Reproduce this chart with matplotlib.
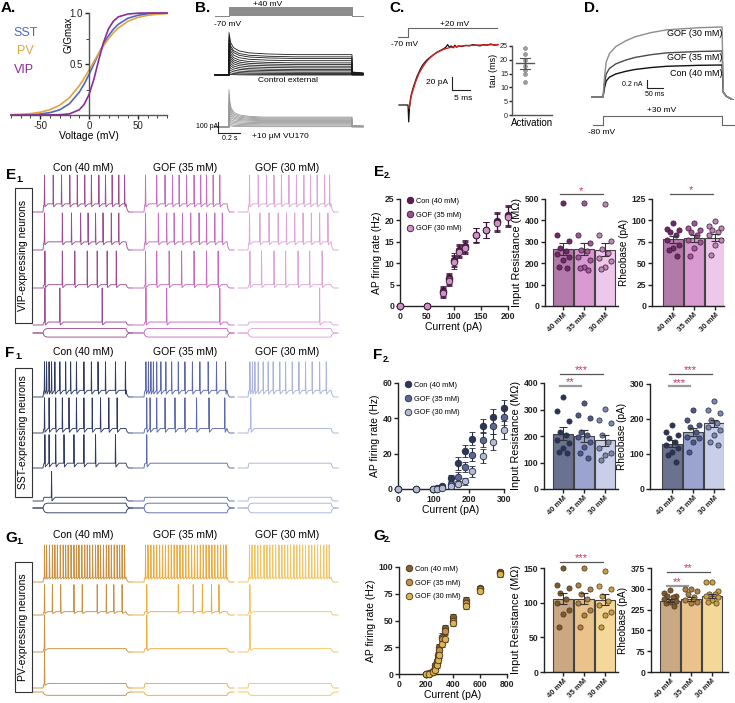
import numpy as np
import matplotlib.pyplot as plt
from matplotlib.patches import Rectangle

W, H = 735, 703
plt.rcParams['font.family'] = ['Liberation Sans', 'DejaVu Sans']
plt.rcParams['axes.unicode_minus'] = False
plt.rcParams['axes.linewidth'] = 1.0
plt.rcParams['axes.edgecolor'] = '#222222'
for k in ['xtick', 'ytick']:
    plt.rcParams[k + '.major.width'] = 1.0
    plt.rcParams[k + '.major.size'] = 3
    plt.rcParams[k + '.major.pad'] = 1.2
    plt.rcParams[k + '.labelsize'] = 6.2
    plt.rcParams[k + '.color'] = '#222222'

# -----------------------------------------------
# DATOS
# -----------------------------------------------
# A. G/Gmax vs voltage
volt = [-80, -70, -60, -50, -40, -30, -20, -10, -5, 0, 5, 10, 15, 20, 25, 30, 40, 50, 60, 70, 80]
g_sst = [0.001, 0.002, 0.004, 0.010, 0.023, 0.051, 0.111, 0.223, 0.303, 0.397, 0.50, 0.603,
         0.697, 0.777, 0.841, 0.889, 0.949, 0.977, 0.990, 0.996, 0.998]
g_pv = [0.004, 0.007, 0.014, 0.027, 0.052, 0.096, 0.17, 0.287, 0.36, 0.44, 0.523, 0.606,
        0.68, 0.749, 0.806, 0.853, 0.919, 0.957, 0.977, 0.988, 0.994]
g_vip = [0.0, 0.0, 0.0, 0.0, 0.001, 0.003, 0.011, 0.051, 0.104, 0.20, 0.35, 0.54,
         0.714, 0.845, 0.92, 0.962, 0.99, 0.998, 1.0, 1.0, 1.0]

# B. voltage steps (mV) and currents (pA)
b_steps = [-60, -50, -40, -30, -20, -10, 0, 10, 20, 30, 40]
b_ctrl_peak = [385, 345, 320, 290, 260, 230, 205, 180, 150, 120, 90, 60, 30, 10]
b_ctrl_sus = [185, 165, 150, 130, 110, 95, 80, 65, 50, 38, 25, 14, 6, 0]
b_ctrl_decay_t = [0, 15, 40, 90, 180, 350, 600, 1100]
b_vu_peak = [340, 300, 260, 220, 185, 150, 120, 95, 70, 45, 20]
b_vu_sus = [90, 82, 74, 66, 58, 50, 40, 30, 20, 10, 3]
b_vu_decay_t = [0, 8, 20, 45, 90, 175, 300, 1100]
b_decay_f = [1.0, 0.55, 0.32, 0.17, 0.08, 0.03, 0.0, 0.0]

# C. activation current (ms, pA) and tau
c_t = [-2.5, 0, 0.2, 0.4, 0.7, 1, 1.5, 2, 2.5, 3, 3.5, 4, 5, 6, 7, 8, 9, 10, 10.5, 11, 11.5,
       12, 12.5, 13, 13.5, 14, 15, 16, 17, 18, 19, 20, 21, 22, 23, 24, 25]
c_i = [0, 0, -26, -5, 10, 18, 28, 36, 44, 50, 56, 61, 68, 73, 77, 81, 84, 87, 89, 93, 89,
       91, 88, 92, 89, 91, 90, 92, 91, 93, 92, 91, 93, 92, 94, 92, 93]
c_fit_t = [0.3, 1, 2, 3, 4, 5, 6, 7, 8, 10, 12, 15, 18, 21, 25]
c_fit_i = [-5, 16, 34, 48, 58, 66, 72, 77, 81, 86, 89, 91, 92, 92.5, 93]
c_tau = [24.2, 22.0, 19.9, 17.9, 16.3, 14.9, 12.1]
c_tau_mean = 18.7
c_tau_sem = 2.1

# D. currents (nA)
d_t = [-35, 0, 5, 10, 20, 40, 70, 100, 150, 200, 300, 372]
d_frac = [0, 0, 0.3, 0.5, 0.62, 0.72, 0.8, 0.86, 0.92, 0.96, 0.99, 1.0]
d_tail_t = [376, 385, 412]
d_tail_i = [0.12, 0.02, -0.1]
d_labels = ['Con (40 mM)', 'GOF (35 mM)', 'GOF (30 mM)']
d_amp = [0.8, 1.15, 1.75]

# E1/F1/G1 spike times (fraction of the 1 s step), rows top to bottom
vip_con = [[0.01, 0.12, 0.22, 0.32, 0.41, 0.50, 0.58, 0.67, 0.75, 0.83, 0.91, 0.98],
           [0.0, 0.23, 0.34, 0.45, 0.54, 0.63, 0.72, 0.82, 0.91],
           [0.02, 0.23, 0.38, 0.53, 0.65, 0.77, 0.88],
           [0.02, 0.2, 0.71]]
vip_g35 = [[0.01, 0.15, 0.25, 0.34, 0.42, 0.51, 0.60, 0.68, 0.75, 0.83, 0.91],
           [0.0, 0.17, 0.27, 0.36, 0.46, 0.56, 0.66, 0.75, 0.85, 0.94],
           [0.01, 0.15, 0.3, 0.45, 0.6, 0.75, 0.89],
           [0.02, 0.27, 0.91]]
vip_g30 = [[0.01, 0.12, 0.22, 0.31, 0.4, 0.49, 0.58, 0.67, 0.75, 0.83, 0.92, 0.98],
           [0.01, 0.14, 0.25, 0.36, 0.46, 0.56, 0.66, 0.76, 0.86, 0.96],
           [0.02, 0.16, 0.31, 0.45, 0.6, 0.74, 0.89],
           [0.86]]
vip_steps = [22, 22, 9, 8]
vip_peaks = [100, 100, 100, 100]
vip_box = [12, -11]

sst_con = [[0.01, 0.04, 0.07, 0.1, 0.14, 0.2, 0.27, 0.33, 0.4, 0.49, 0.58, 0.66, 0.75, 0.87, 0.99],
           [0.01, 0.07, 0.15, 0.23, 0.31, 0.4, 0.49, 0.59, 0.69, 0.79, 0.89],
           [0.02, 0.07, 0.15, 0.25, 0.37, 0.49, 0.63, 0.87],
           [0.1]]
sst_g35 = [[0.02, 0.05, 0.08, 0.11, 0.15, 0.2, 0.26, 0.33, 0.41, 0.49, 0.58, 0.67, 0.77, 0.87, 0.98],
           [0.03, 0.07, 0.15, 0.25, 0.37, 0.49, 0.63, 0.78, 0.97],
           [0.03],
           []]
sst_g30 = [[0.02, 0.05, 0.08, 0.12, 0.18, 0.24, 0.3, 0.38, 0.45, 0.53, 0.61, 0.69, 0.77, 0.86, 0.94],
           [0.03],
           [],
           []]
sst_steps = [18, 12, 13, 10]
sst_peaks = [95, 95, 90, 80]
sst_box = [13, -13]

pv_con = [[0.01, 0.04, 0.075, 0.11, 0.14, 0.17, 0.205, 0.24, 0.27, 0.30, 0.335, 0.37, 0.40, 0.43,
           0.465, 0.50, 0.53, 0.56, 0.595, 0.63, 0.66, 0.69, 0.725, 0.76, 0.79, 0.82, 0.855, 0.89,
           0.92, 0.95, 0.98],
          [0.01, 0.11, 0.21, 0.37, 0.47, 0.65, 0.76, 0.85, 0.95],
          [0.01],
          [0.01]]
pv_g35 = [[0.01, 0.045, 0.08, 0.115, 0.15, 0.185, 0.22, 0.255, 0.29, 0.325, 0.36, 0.395, 0.43,
           0.465, 0.50, 0.535, 0.57, 0.605, 0.64, 0.675, 0.71, 0.745, 0.78, 0.815, 0.85, 0.885,
           0.92, 0.955, 0.985],
          [0.03, 0.41, 0.59, 0.7, 0.81, 0.9],
          [0.03],
          []]
pv_g30 = [[0.01, 0.045, 0.08, 0.115, 0.15, 0.19, 0.225, 0.26, 0.295, 0.33, 0.37, 0.405, 0.44,
           0.475, 0.51, 0.55, 0.585, 0.62, 0.655, 0.69, 0.73, 0.765, 0.80, 0.835, 0.87, 0.91,
           0.945, 0.975],
          [0.02],
          [0.02],
          []]
pv_steps = [13, 9, 9, 12]
pv_peaks = [100, 82, 100, 100]
pv_box = [-9]

box_t = [-120, 0, 8, 25, 50, 1000, 1008, 1025, 1050, 1085]
box_f = [0, 0, 0.5, 0.85, 1, 1, 0.5, 0.15, 0, 0]

# E2/F2/G2 firing rate vs current
cond_labels = ['Con (40 mM)', 'GOF (35 mM)', 'GOF (30 mM)']
bar_labels = ['40 mM', '35 mM', '30 mM']

e_cur = [0, 50, 80, 90, 100, 110, 120, 140, 160, 180, 200]
e_con = [0, 0, 3.5, 6.5, 10.8, 13.0, 14.0, 16.6, 17.8, 19.8, 21.3]
e_g35 = [0, 0, 3.2, 6.2, 10.5, 12.8, 13.8, 16.6, 17.8, 19.6, 21.0]
e_g30 = [0, 0, 3.0, 5.9, 10.2, 12.7, 13.6, 16.5, 17.7, 19.5, 20.8]
e_err = [0, 0, 1.2, 1.3, 1.5, 1.4, 1.4, 1.7, 1.9, 2.1, 2.3]

f_cur = [0, 50, 100, 110, 125, 150, 170, 190, 210, 240, 270, 300]
f_con = [0, 0, 0.2, 0.5, 1.5, 6, 14.5, 21.5, 28.5, 35.5, 41, 46]
f_g35 = [0, 0, 0, 0.2, 1.2, 3, 7, 12.5, 19.5, 28, 35.5, 41]
f_g30 = [0, 0, 0, 0, 0.5, 1.5, 3, 4.5, 10, 18.5, 26.5, 33.5]
f_con_err = [0, 0, 0.3, 0.5, 1, 2, 3.5, 3.5, 3.5, 4, 4.5, 4.5]
f_g35_err = [0, 0, 0, 0.3, 0.8, 1.5, 2.5, 3, 3.5, 4, 4.5, 4.5]
f_g30_err = [0, 0, 0, 0, 0.5, 1, 1.5, 2, 3, 4, 4.5, 5]

g_cur = [200, 225, 250, 270, 280, 290, 300, 320, 340, 400, 500, 600, 750]
g_con = [0, 0.5, 2.5, 8, 12, 18, 25, 35, 43, 53, 69, 80, 95]
g_g35 = [0, 0.3, 2, 6, 10, 15, 22, 33, 40, 50, 66, 79, 94]
g_g30 = [0, 0.2, 1.5, 4, 8, 13, 18, 28, 33, 48, 64, 78, 93]
g_err = [0, 0.5, 1, 2, 2, 2.5, 3, 3, 3, 3, 3, 2.5, 2]

# input resistance (MOhm) and rheobase (pA), individual cells
e_ir = [[481, 333, 302, 270, 259, 244, 231, 216, 181, 177],
        [481, 333, 294, 262, 255, 231, 216, 184, 177, 169],
        [477, 333, 302, 266, 247, 223, 208, 184, 172]]
e_ir_mean = [265, 265, 263]
e_ir_sem = [28, 28, 30]
e_rb = [[97, 90, 89, 87, 83, 77, 71, 68, 66, 58],
        [97, 91, 89, 87, 83, 77, 75, 68, 58],
        [99, 93, 91, 89, 87, 83, 77, 71, 60]]
e_rb_mean = [78, 79, 80]
e_rb_sem = [4, 4, 4]

f_ir = [[349, 293, 255, 214, 204, 185, 173, 154, 141, 135],
        [324, 280, 267, 214, 204, 198, 179, 160, 135, 116],
        [303, 261, 249, 204, 179, 154, 135, 129, 110]]
f_ir_mean = [209, 199, 184]
f_ir_sem = [25, 22, 20]
f_rb = [[183, 164, 154, 145, 135, 125, 116, 107, 97, 78],
        [226, 197, 183, 178, 164, 150, 145, 135, 107],
        [250, 226, 216, 197, 188, 178, 169, 154, 135, 125]]
f_rb_mean = [130, 163, 188]
f_rb_sem = [9, 11, 10]

g_ir = [[150, 126, 121, 114, 106, 100, 89, 84, 65],
        [150, 126, 120, 112, 106, 99, 89, 82, 65],
        [145, 124, 120, 110, 103, 96, 86, 82, 65]]
g_ir_mean = [106, 106, 104]
g_ir_sem = [8, 8, 8]
g_rb = [[294, 286, 274, 274, 269, 262, 257, 254, 247, 239],
        [301, 301, 292, 280, 269, 259, 254, 247],
        [323, 323, 292, 283, 280, 274, 269, 259, 254, 247]]
g_rb_mean = [257, 263, 274]
g_rb_sem = [6, 7, 8]

# -----------------------------------------------
# FIGURA
# -----------------------------------------------
fig = plt.figure(figsize=(W / 100, H / 100), dpi=100)
STAR = '#cc3060'


def add_ax(l, t, r, b):
    return fig.add_axes([l / W, 1 - b / H, (r - l) / W, (b - t) / H])


def ftext(x, y, s, size=6.5, ha='center', va='center', **kw):
    fig.text(x / W, 1 - y / H, s, size=size, ha=ha, va=va, **kw)


def clean(ax):
    ax.spines['top'].set_visible(False)
    ax.spines['right'].set_visible(False)


def bold_ticks(ax):
    for lab in ax.get_xticklabels() + ax.get_yticklabels():
        lab.set_fontweight('bold')


def panel_letter(x, y, s, sub=None):
    ftext(x, y, s, size=11, weight='bold')
    if sub is not None:
        ftext(x + 5, y + 4, sub, size=6.5, weight='bold', ha='left')


# ---------- A ----------
ax = add_ax(11, 13, 167, 115)
ax.plot(volt, g_sst, color='#5066c4', lw=1.2, clip_on=False)
ax.plot(volt, g_pv, color='#e0a53c', lw=1.2, clip_on=False)
ax.plot(volt, g_vip, color='#8c2a98', lw=1.2, clip_on=False)
ax.set_xlim(-80, 80)
ax.set_ylim(0, 1)
ax.spines['left'].set_position(('data', 0))
ax.spines['left'].set_color('#555555')
ax.spines['bottom'].set_color('#555555')
clean(ax)
ax.set_xticks([-50, 0, 50])
ax.set_xticks(range(-80, 81, 10), minor=True)
ax.set_yticks([0.5, 1.0])
ax.set_yticks([0.25, 0.75], minor=True)
ax.tick_params(which='minor', length=2)
ax.tick_params(labelsize=7)
ax.set_xlabel('Voltage (mV)', size=7.5, labelpad=0)
ftext(68, 35, 'G/Gmax', size=7, rotation=90)
ftext(26, 33, 'SST', size=9, color='#5066c4')
ftext(25, 51, 'PV', size=9, color='#e0a53c')
ftext(24, 70, 'VIP', size=9, color='#8c2a98')
panel_letter(8, 8, 'A.')

# ---------- B ----------
B_MS = 1100 / (352 - 229)
axv = add_ax(185, 0, 365, 22)
axv.set_xlim((185 - 229) * B_MS, (365 - 229) * B_MS)
axv.set_ylim(-70 - 6 * 12.2, -70 + 16 * 12.2)
axv.axis('off')
for lvl in b_steps:
    axv.plot([-125, 0, 0, 1100, 1100, 1200], [-70, -70, lvl, lvl, -70, -70], color='#8a8a8a', lw=0.7)

for top, bot, peaks, sus, dt, col in [(28, 80, b_ctrl_peak, b_ctrl_sus, b_ctrl_decay_t, '#1a1a1a'),
                                      (85, 135, b_vu_peak, b_vu_sus, b_vu_decay_t, '#9a9a9a')]:
    base = 75 if top == 28 else 127
    axb = add_ax(185, top, 365, bot)
    axb.set_xlim((185 - 229) * B_MS, (365 - 229) * B_MS)
    axb.set_ylim((base - bot) * 9.09, (base - top) * 9.09)
    axb.axis('off')
    for pk, s in zip(peaks, sus):
        tt = [-125, 0] + dt + [1100, 1200]
        ii = [0, 0] + [s + (pk - s) * f for f in b_decay_f] + [0.15 * s, 0.1 * s]
        axb.plot(tt, ii, color=col, lw=0.6)
    if top == 85:
        axb.plot([-98, -98, 102], [45, -55, -55], color='#222222', lw=0.8)
ftext(268, 4.5, '+40 mV', size=6)
ftext(228, 24, '-70 mV', size=6)
ftext(288, 81, 'Control external', size=6)
ftext(280, 136, '+10 µM VU170', size=6)
ftext(207, 127, '100 pA', size=5)
ftext(230, 138, '0.2 s', size=5)
panel_letter(203, 8, 'B.')

# ---------- C ----------
C_PX = 3.6
axcv = add_ax(395, 24, 500, 42)
axcv.set_xlim((395 - 408) / C_PX, (500 - 408) / C_PX)
axcv.set_ylim(-70 - 5 * 10, -70 + 13 * 10)
axcv.axis('off')
axcv.plot([-2.8, 0, 0, 24.7], [-70, -70, 20, 20], color='#666666', lw=0.8)
axci = add_ax(395, 40, 500, 125)
axci.set_xlim((395 - 408) / C_PX, (500 - 408) / C_PX)
axci.set_ylim(-20 * 1.54, 65 * 1.54)
axci.axis('off')
axci.plot(c_t, c_i, color='#111111', lw=0.9)
axci.plot(c_fit_t, c_fit_i, color='#d42020', lw=1.0)
axci.plot([12.2, 12.2, 17.2], [43, 23, 23], color='#222222', lw=0.8)
ftext(455, 24, '+20 mV', size=6)
ftext(405, 45, '-70 mV', size=6)
ftext(448, 83, '20 pA', size=6, ha='right')
ftext(463, 99, '5 ms', size=6)

axt = add_ax(512, 46, 552, 115)
axt.plot(np.zeros(len(c_tau)), c_tau, 'o', ms=2.8, mfc='#a0a0a0', mec='#777777', mew=0.4, clip_on=False)
axt.plot([-0.45, 0.45], [c_tau_mean] * 2, color='#555555', lw=1)
axt.plot([-0.25, 0.25], [c_tau_mean + c_tau_sem] * 2, color='#555555', lw=0.8)
axt.plot([-0.25, 0.25], [c_tau_mean - c_tau_sem] * 2, color='#555555', lw=0.8)
axt.plot([0, 0], [c_tau_mean - c_tau_sem, c_tau_mean + c_tau_sem], color='#555555', lw=0.8)
axt.set_xlim(-0.65, 1.35)
axt.set_ylim(0, 25)
axt.set_yticks([0, 5, 10, 15, 20, 25])
axt.tick_params(axis='y', labelsize=5.2, length=2, pad=0.8)
axt.set_xticks([])
for s in ['left', 'bottom']:
    axt.spines[s].set_color('#555555')
clean(axt)
ftext(532, 123, 'Activation', size=7)
ftext(494, 70, 'tau (ms)', size=6.5, rotation=90)
panel_letter(397, 8, 'C.')

# ---------- D ----------
D_MS = 50 / 16
axd = add_ax(588, 20, 735, 100)
axd.set_xlim((588 - 603) * D_MS, (735 - 603) * D_MS)
axd.set_ylim(-3 * 0.025, 77 * 0.025)
axd.axis('off')
for amp, col in zip(d_amp, ['#111111', '#4a4a4a', '#8c8c8c']):
    tt = d_t + d_tail_t
    ii = [amp * f for f in d_frac] + d_tail_i
    axd.plot(tt, ii, color=col, lw=1.0)
axd.plot([137.5, 137.5, 187.5], [0.425, 0.225, 0.225], color='#222222', lw=0.8)
axdv = add_ax(588, 110, 735, 130)
axdv.set_xlim((588 - 603) * D_MS, (735 - 603) * D_MS)
axdv.set_ylim(-80 - 5 * 12.2, -80 + 15 * 12.2)
axdv.axis('off')
axdv.plot([-30, 0, 0, 372, 372, 412], [-80, -80, 30, 30, -80, -80], color='#666666', lw=0.8)
for lab, yy in zip(d_labels, [74, 58, 34]):
    ftext(722, yy, lab, size=6.5, ha='right')
ftext(643, 85, '0.2 nA', size=5, ha='right')
ftext(655, 94, '50 ms', size=5)
ftext(662, 111, '+30 mV', size=6)
ftext(602, 133, '-80 mV', size=6)
panel_letter(592, 8, 'D.')

# ---------- E1 / F1 / G1 traces ----------
MS_PX = 1000 / 83
MV_PX = 2.7
COL_SHIFT = [0, 1217, 2470]


def vm_trace(spikes, step, peak, ahp):
    t = [-120.0, 0.0, 6.0, 14.0]
    v = [0.0, 0.0, 0.7 * step, step]
    times = [s * 1000.0 for s in spikes]
    for k, st in enumerate(times):
        st = max(st, t[-1] + 1)
        nxt = times[k + 1] if k + 1 < len(times) else 1000.0
        rec = min(st + 45, max(nxt - 1, st + 9))
        t += [st, st + 3, st + 8, rec]
        v += [step, peak, step - ahp, step]
    t += [max(1000.0, t[-1] + 1), 1012, 1030, 1085]
    v += [step, 0.35 * step, 0, 0]
    return np.array(t), np.array(v)


def trace_group(top, bot, cols_spikes, colors, base_px, box_px, steps, peaks, ahp, box_amps):
    ax = add_ax(30, top, 345, bot)
    ax.set_xlim((30 - 43) * MS_PX, (345 - 43) * MS_PX)
    ax.set_ylim(-(bot - top) * MV_PX, 0)
    ax.axis('off')
    for c, (rows, col) in enumerate(zip(cols_spikes, colors)):
        x0 = COL_SHIFT[c]
        for r, spk in enumerate(rows):
            tt, vv = vm_trace(spk, steps[r], peaks[r], ahp)
            ax.plot(tt + x0, vv - (base_px[r] - top) * MV_PX, color=col, lw=0.65)
        for amp in box_amps:
            ax.plot(np.array(box_t) + x0, np.array(box_f) * amp - (box_px - top) * MV_PX,
                    color=col, lw=0.65)


def side_box(t, b, s):
    fig.patches.append(Rectangle((15 / W, 1 - b / H), 17 / W, (b - t) / H, transform=fig.transFigure,
                                 fill=False, lw=0.8, ec='#333333'))
    ftext(23.5, (t + b) / 2, s, size=7.5, rotation=90)


def col_titles(y):
    for x, s in zip([83, 185, 287], cond_labels):
        ftext(x, y, s, size=7.5)


trace_group(165, 342, [vip_con, vip_g35, vip_g30], ['#9c4d90', '#c86cbd', '#dea6d8'],
            [212, 250, 288, 325], 333, vip_steps, vip_peaks, 8, vip_box)
side_box(188, 323, 'VIP-expressing neurons')
col_titles(168)
panel_letter(11, 175, 'E', '1.')

trace_group(350, 522, [sst_con, sst_g35, sst_g30], ['#2f3a60', '#5b69ab', '#a9b3dc'],
            [397, 433, 468, 501], 508, sst_steps, sst_peaks, 10, sst_box)
side_box(368, 497, 'SST-expressing neurons')
col_titles(352)
panel_letter(10, 353, 'F', '1.')

trace_group(530, 700, [pv_con, pv_g35, pv_g30], ['#c89040', '#eeab3e', '#f3c562'],
            [582, 615, 652, 688], 692, pv_steps, pv_peaks, 5, pv_box)
side_box(562, 692, 'PV-expressing neurons')
col_titles(535)
panel_letter(11, 538, 'G', '1.')


# ---------- E2 / F2 / G2 ----------
def rate_panel(l, t, r, b, cur, ys, errs, colors, edge, xlim, ylim, xt, yt):
    ax = add_ax(l, t, r, b)
    handles = []
    for y, e, c, lab in zip(ys, errs, colors, cond_labels):
        ax.errorbar(cur, y, yerr=e, fmt='o', ms=4.7, mfc=c, mec=edge, mew=0.6, ecolor=edge,
                    elinewidth=0.8, capsize=2, capthick=0.8, clip_on=False, zorder=3)
        h, = ax.plot([], [], 'o', ms=4.7, mfc=c, mec=edge, mew=0.6, label=lab)
        handles.append(h)
    ax.set_xlim(*xlim)
    ax.set_ylim(*ylim)
    ax.set_xticks(xt)
    ax.set_yticks(yt)
    clean(ax)
    bold_ticks(ax)
    ax.set_xlabel('Current (pA)', size=7.5, labelpad=1)
    ax.set_ylabel('AP firing rate (Hz)', size=7.5, labelpad=2)
    ax.legend(handles=handles, loc='upper left', bbox_to_anchor=(0.03, 1.04), frameon=False,
              fontsize=5.3, handletextpad=0.3, labelspacing=0.9, borderaxespad=0,
              handlelength=1.0)
    return ax


def bar_panel(l, t, r, b, xleft, pts, means, sems, bar_cols, pt_cols, edge, ylim, yt, ylabel,
              ylsize, sig):
    ax = add_ax(l, t, r, b)
    xs = np.arange(3)
    ax.bar(xs, means, width=0.93, color=bar_cols, edgecolor='#444444', lw=0.8, zorder=1)
    offs = np.array([0.0, -0.27, 0.27, -0.14, 0.14, -0.3, 0.3, 0.0, -0.2, 0.2])
    for i, p in enumerate(pts):
        ax.scatter(i + offs[:len(p)], p, s=14, c=pt_cols[i], edgecolors=edge, linewidths=0.5,
                   zorder=4, clip_on=False)
    ax.errorbar(xs, means, yerr=sems, fmt='none', ecolor='#333333', elinewidth=0.8, capsize=3,
                capthick=0.8, zorder=5)
    ax.set_xlim(xleft, xleft + (r - l) / 21)
    ax.set_ylim(*ylim)
    ax.set_yticks(yt)
    ax.set_xticks(xs)
    ax.set_xticklabels(bar_labels, rotation=45, ha='right', rotation_mode='anchor', size=5.6)
    ax.tick_params(axis='x', pad=0.8)
    clean(ax)
    bold_ticks(ax)
    ax.set_ylabel(ylabel, size=ylsize, labelpad=2)
    for x1, x2, y, s in sig:
        short = x2 < 1.5
        ax.plot([x1, x2], [y, y], color='#9a9a9a' if short else '#555555',
                lw=1.6 if short else 0.9, clip_on=False)
        ax.annotate(s, ((x1 + x2) / 2, y), xytext=(0, 2.5), textcoords='offset points',
                    ha='center', va='center', color=STAR, size=8, annotation_clip=False)
    return ax


# E2
rate_panel(400, 199, 508, 306, e_cur, [e_con, e_g35, e_g30], [e_err] * 3,
           ['#5a1d52', '#9a4f92', '#c894c2'], '#3e1238', (0, 200), (0, 25),
           [0, 50, 100, 150, 200], [0, 5, 10, 15, 20, 25])
bar_panel(545, 199, 618, 306, -0.857, e_ir, e_ir_mean, e_ir_sem,
          ['#b27aa8', '#d89ad0', '#eec8ea'], ['#6e2a66', '#9c5a96', '#b98ab4'], '#3e1238',
          (0, 500), [0, 100, 200, 300, 400, 500], 'Input Resistance (MΩ)', 7.8,
          [(-0.15, 1.9, 523, '*')])
bar_panel(652, 199, 724, 306, -1.0, e_rb, e_rb_mean, e_rb_sem,
          ['#b27aa8', '#d89ad0', '#eec8ea'], ['#6e2a66', '#9c5a96', '#b98ab4'], '#3e1238',
          (0, 125), [0, 25, 50, 75, 100, 125], 'Rheobase (pA)', 7.2,
          [(-0.15, 1.9, 131, '*')])
panel_letter(379, 172, 'E', '2.')

# F2
rate_panel(398, 383, 504, 489, f_cur, [f_con, f_g35, f_g30], [f_con_err, f_g35_err, f_g30_err],
           ['#2c3657', '#5c6795', '#b5bad3'], '#262c40', (0, 300), (0, 60),
           [0, 100, 200, 300], [0, 20, 40, 60])
bar_panel(544, 383, 618, 489, -0.9, f_ir, f_ir_mean, f_ir_sem,
          ['#6b7290', '#9aa4cf', '#c9cfe8'], ['#2b3454', '#4d5888', '#7d86ad'], '#262c40',
          (0, 400), [0, 100, 200, 300, 400], 'Input Resistance (MΩ)', 7.8,
          [(-0.15, 1.9, 434, '***'), (-0.15, 0.85, 389, '**')])
bar_panel(650, 384, 724, 489, -1.05, f_rb, f_rb_mean, f_rb_sem,
          ['#6b7290', '#9aa4cf', '#c9cfe8'], ['#2b3454', '#4d5888', '#7d86ad'], '#262c40',
          (0, 300), [0, 100, 200, 300], 'Rheobase (pA)', 7.2,
          [(-0.15, 1.9, 329, '***'), (-0.15, 0.85, 294, '***')])
panel_letter(378, 355, 'F', '2.')

# G2
rate_panel(399, 567, 507, 674, g_cur, [g_con, g_g35, g_g30], [g_err] * 3,
           ['#7d6238', '#c48e48', '#d9b450'], '#4a3418', (0, 800), (0, 100),
           [0, 200, 400, 600, 800], [0, 25, 50, 75, 100])
bar_panel(544, 568, 618, 672, -0.9, g_ir, g_ir_mean, g_ir_sem,
          ['#c9a883', '#eac28c', '#f3d899'], ['#7a5a30', '#a98248', '#caa046'], '#4a3418',
          (0, 150), [0, 50, 100, 150], 'Input Resistance (MΩ)', 7.8,
          [(-0.15, 1.9, 159, '***')])
bar_panel(651, 568, 728, 672, -0.9, g_rb, g_rb_mean, g_rb_sem,
          ['#c9a883', '#eac28c', '#f3d899'], ['#7a5a30', '#a98248', '#caa046'], '#4a3418',
          (0, 375), [0, 75, 150, 225, 300, 375], 'Rheobase (pA)', 7.2,
          [(-0.15, 1.9, 361, '**'), (-0.15, 0.85, 311, '**')])
panel_letter(379, 536, 'G', '2.')

fig.savefig('out.png', dpi=100, facecolor='white')
